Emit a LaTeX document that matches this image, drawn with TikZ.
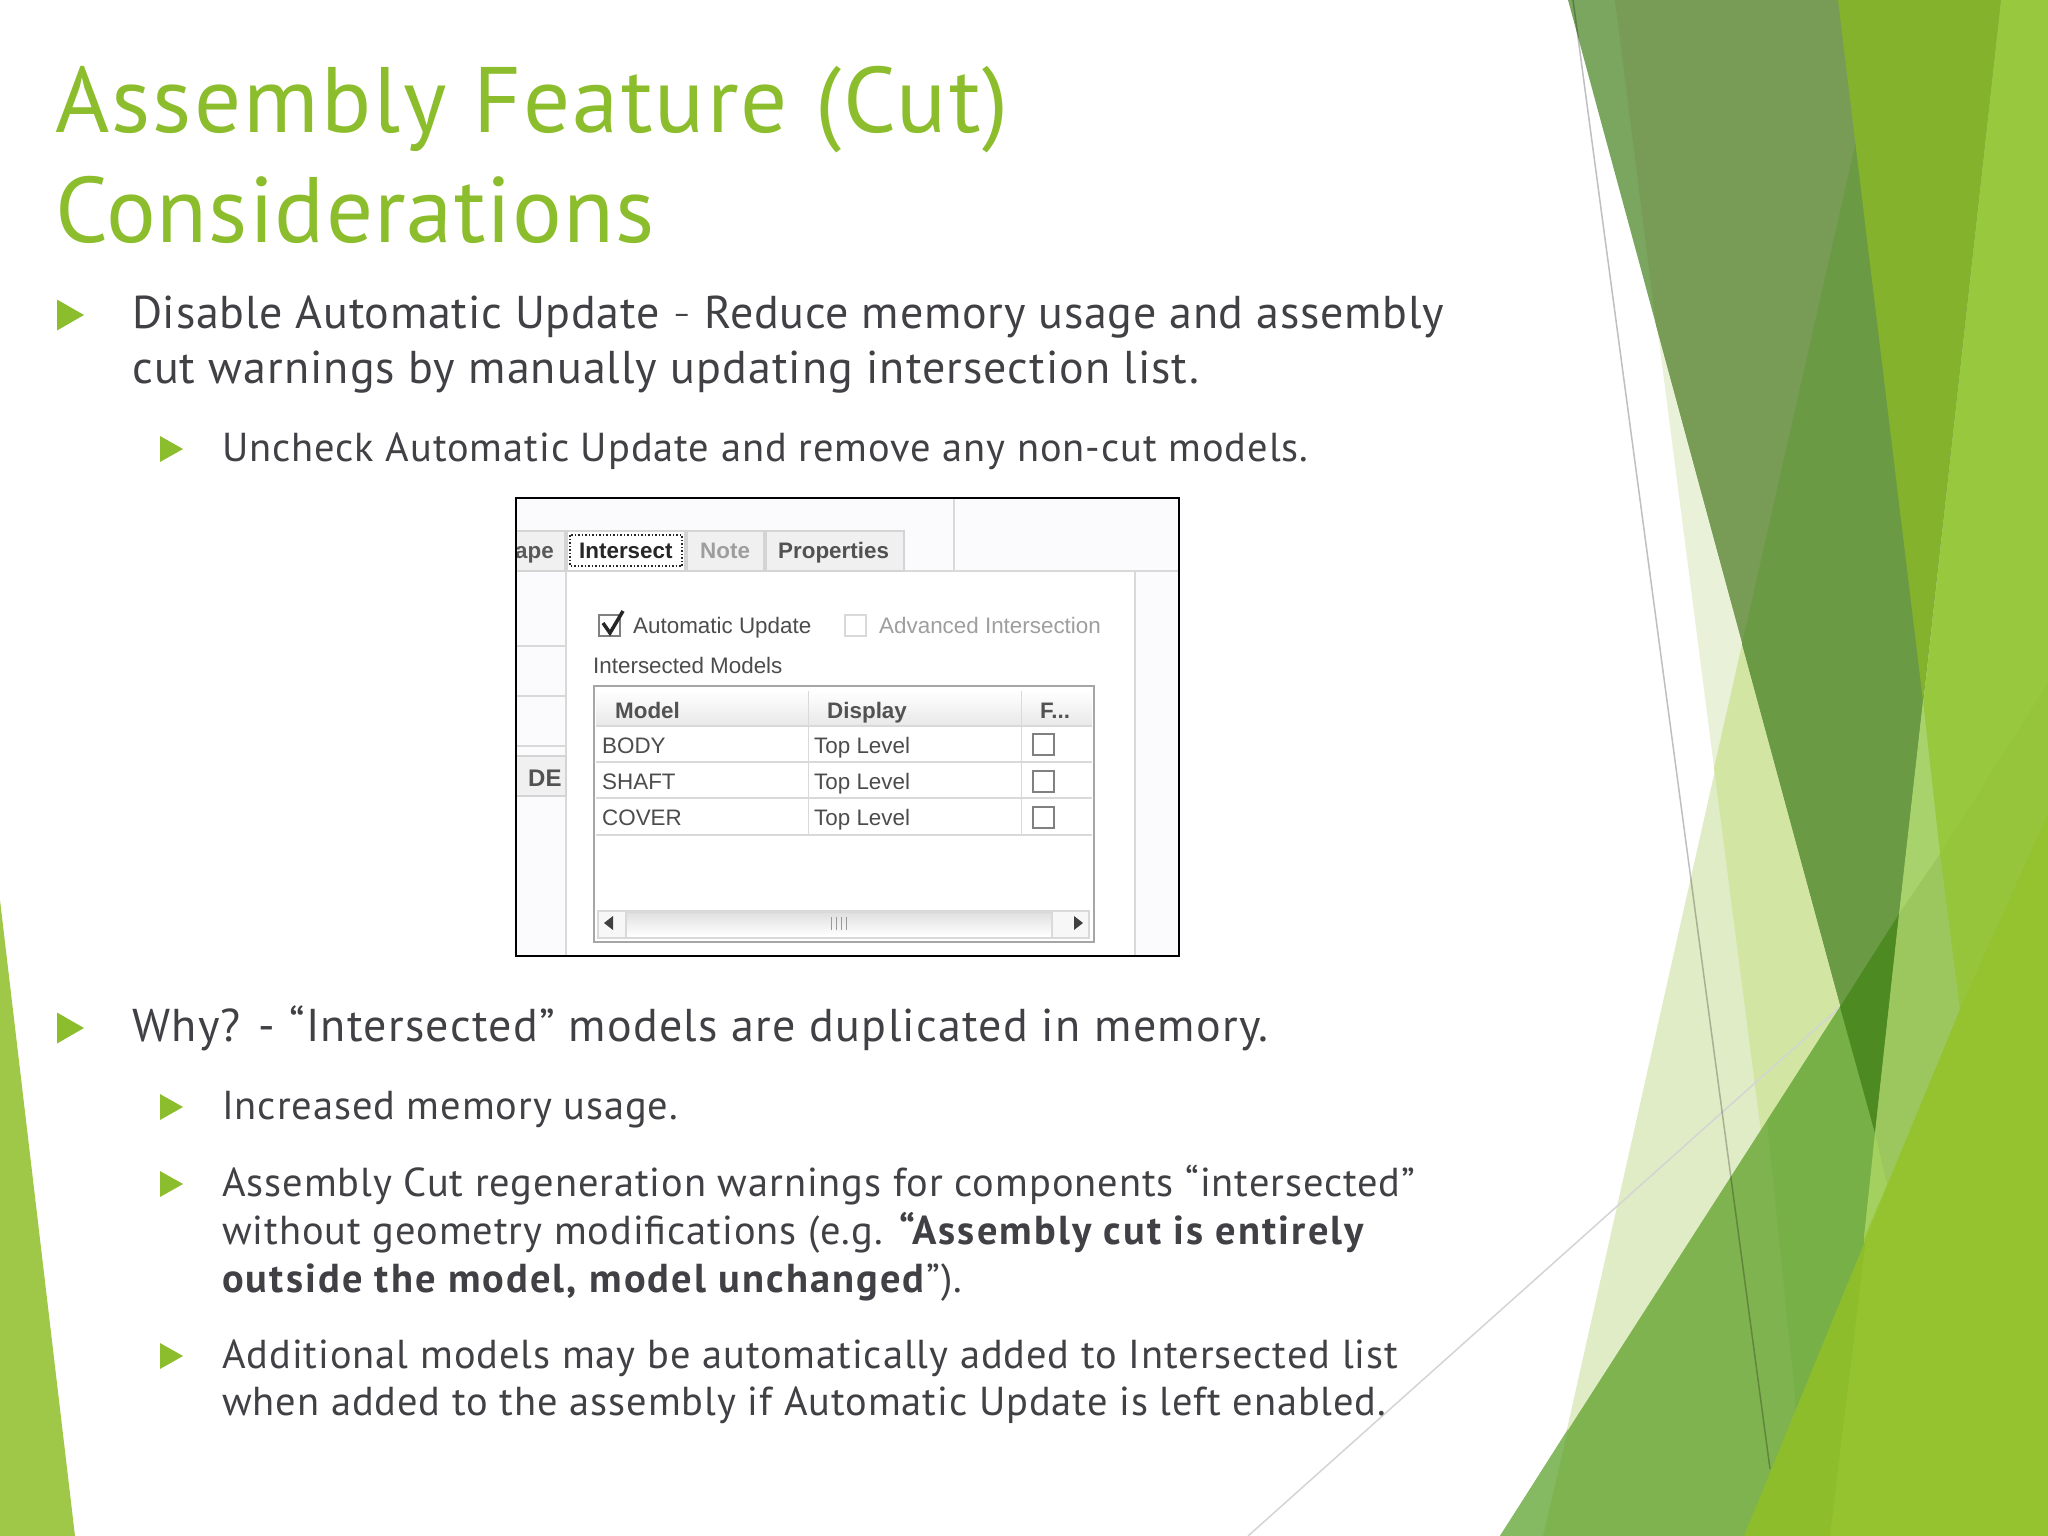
\documentclass[tikz,border=0pt]{standalone}
\usepackage{fontspec}
\setmainfont[LetterSpace=2.3,BoldFeatures={LetterSpace=5.2}]{PT Sans}
\newfontfamily\dialogfont{Liberation Sans}
\definecolor{titlegreen}{HTML}{8CBD2C}
\definecolor{bodygray}{HTML}{404045}
\tikzset{x=1pt,y=-1pt}
\tikzset{slidetitle/.style = {anchor=base west,inner sep=0pt,text=titlegreen,font=\fontsize{93}{93}\selectfont}}
\tikzset{bigline/.style = {anchor=base west,inner sep=0pt,text=bodygray,font=\fontsize{46}{46}\selectfont}}
\tikzset{subline/.style = {anchor=base west,inner sep=0pt,text=bodygray,font=\fontsize{40.4}{40.4}\selectfont}}
\tikzset{dlgtext/.style = {anchor=base west,inner sep=0pt,text=black!70,font=\dialogfont\fontsize{22.4}{22.4}\selectfont}}
\tikzset{dlgbold/.style = {dlgtext,text=black!68,font=\dialogfont\bfseries\fontsize{22.4}{22.4}\selectfont}}
\tikzset{dlgoff/.style = {dlgtext,text=black!38}}
\tikzset{dlgline/.style = {draw=black!15,line width=1.5pt}}
\tikzset{tabbox/.style = {draw=black!17,line width=1.5pt,fill=black!6}}
\tikzset{tickbox/.style = {draw=black!50,line width=1.5pt,fill=white}}
\newcommand{\bigmark}[1]{\fill[fill=titlegreen] (57,#1-15.5) -- (84,#1) -- (57,#1+15.5) -- cycle;}
\newcommand{\submark}[1]{\fill[fill=titlegreen] (160,#1-13) -- (183,#1) -- (160,#1+13) -- cycle;}
\begin{document}
\begin{tikzpicture}
            \useasboundingbox (0,0) rectangle (2048,1536);
            \fill[white] (0,0) rectangle (2048,1536);

            % Left wedge
            \fill[fill={rgb,255:red,160;green,200;blue,72}] (0,900) -- (75,1536) -- (0,1536) -- cycle;

            % Right wedges, back to front
            \fill[fill={rgb,255:red,233;green,242;blue,216}] (1615,0) -- (1795,1395) -- (2048,1395) -- (2048,0) -- cycle;
            \fill[fill={rgb,255:red,224;green,236;blue,197}] (1888,0) -- (1543,1536) -- (2048,1536) -- (2048,0) -- cycle;
            \fill[fill={rgb,255:red,210;green,229;blue,163}] (1888,0) -- (1714,768) -- (1795,1395) -- (2048,1395) -- (2048,0) -- cycle;
            \draw[line width=1.5pt,draw=black!17] (1248,1536) -- (1840,1007);
            \fill[fill={rgb,255:red,127;green,179;blue,80}] (1500,1536) -- (2048,683) -- (2048,1536) -- cycle;
            \fill[fill={rgb,255:red,133;green,186;blue,99}] (1500,1536) -- (1568,1429) -- (1543,1536) -- cycle;
            \fill[fill={rgb,255:red,120;green,176;blue,72}] (1767,1121) -- (1795,1395) -- (1800,1536) -- (1900,1536) -- (1900,1000) -- (1840,1007) -- cycle;
            \fill[fill={rgb,255:red,122;green,166;blue,95}] (1568,0) -- (2001,0) -- (1875,1133) -- cycle;
            \fill[fill={rgb,255:red,120;green,156;blue,85}] (1615,0) -- (2001,0) -- (1875,1133) -- (1656,325) -- cycle;
            \fill[fill={rgb,255:red,106;green,154;blue,68}] (1888,0) -- (2001,0) -- (1875,1133) -- (1742,644) -- cycle;
            \fill[fill={rgb,255:red,78;green,138;blue,34}] (1840,1007) -- (1899,914) -- (1875,1133) -- cycle;
            \fill[fill={rgb,255:red,132;green,178;blue,45}] (1838,0) -- (2001,0) -- (1923,701) -- cycle;
            \fill[fill={rgb,255:red,152;green,200;blue,62}] (2001,0) -- (1864,1238) -- (1864,1536) -- (2048,1536) -- (2048,0) -- cycle;
            \fill[fill={rgb,255:red,150;green,197;blue,60}] (1940,854) -- (2048,683) -- (2048,815) -- (1960,1010) -- cycle;
            \fill[fill={rgb,255:red,168;green,210;blue,108}] (1923,701) -- (1940,854) -- (1899,914) -- cycle;
            \fill[fill={rgb,255:red,156;green,199;blue,94}] (1940,854) -- (1960,1010) -- (1887,1184) -- (1875,1133) -- (1899,914) -- cycle;
            \fill[fill={rgb,255:red,164;green,208;blue,96}] (1875,1133) -- (1887,1184) -- (1864,1238) -- cycle;
            \draw[line width=1.5pt,draw=black,opacity=.25] (1573,0) -- (1770,1469);
            \fill[fill={rgb,255:red,142;green,189;blue,43}] (1744,1536) -- (1960,1010) -- (2048,815) -- (2048,1536) -- cycle;
            \fill[fill={rgb,255:red,148;green,195;blue,47}] (1830,1536) -- (1866,1238) -- (1960,1010) -- (2048,815) -- (2048,1536) -- cycle;

            % Title
            \node[slidetitle] (title1) at (55,132) {Assembly Feature (Cut)};
            \node[slidetitle] (title2) at (55,242) {\addfontfeature{LetterSpace=1.1}Considerations};

            % Upper bullets
            \bigmark{315}
            \node[bigline] (disable1) at (132,328) {\addfontfeature{LetterSpace=1.6}Disable Automatic Update \raisebox{5pt}{\fontsize{28}{28}\selectfont –} Reduce memory usage and assembly};
            \node[bigline] (disable2) at (132,383) {cut warnings by manually updating intersection list.};
            \submark{449}
            \node[subline] (uncheck) at (222,461) {Uncheck Automatic Update and remove any non-cut models.};

            % Dialog
            \fill[fill={rgb,255:red,251;green,251;blue,253}] (516,498) rectangle (1179,956);
            \fill[white] (566,571) rectangle (1135,956);
            \draw[dlgline] (516,571) -- (1179,571);
            \draw[dlgline] (954,498) -- (954,571);
            \draw[dlgline] (566,571) -- (566,956);
            \draw[dlgline] (1135,571) -- (1135,956);
            \draw[dlgline] (516,646) -- (566,646);
            \draw[dlgline] (516,696) -- (566,696);
            \draw[dlgline] (516,746) -- (566,746);
            \draw[tabbox] (516,756) rectangle (566,796);
            \node[dlgbold,font=\dialogfont\bfseries\fontsize{24}{24}\selectfont] (de) at (528,786) {DE};

            \draw[tabbox] (516,531) rectangle (565,571);
            \draw[tabbox,fill=white] (567,531) rectangle (685,571);
            \draw[tabbox] (687,531) rectangle (764,571);
            \draw[tabbox] (766,531) rectangle (904,571);
            \draw[black!85,line width=1.5pt,dotted] (570,535) rectangle (682,566);
            \node[dlgbold,text=black!65] (tabshape) at (515,558) {ape};
            \node[dlgbold,text=black!85] (tabintersect) at (579,558) {Intersect};
            \node[dlgbold,text=black!38] (tabnote) at (700,558) {Note};
            \node[dlgbold] (tabprop) at (778,558) {Properties};

            \draw[tickbox] (599,615) rectangle (620,636);
            \draw[black!85,line width=3.5pt] (603,623) -- (610,633) -- (623,611);
            \node[dlgtext] (autoupdate) at (633,633) {Automatic Update};
            \draw[tickbox,draw=black!15] (845,615) rectangle (866,636);
            \node[dlgoff] (advanced) at (879,633) {Advanced Intersection};
            \node[dlgtext] (modelslabel) at (593,673) {Intersected Models};

            % Table
            \draw[draw=black!35,line width=1.5pt,fill=white] (594,686) rectangle (1094,942);
            \shade[top color=white,bottom color=black!9] (596,691) rectangle (1092,726);
            \draw[dlgline] (596,726) -- (1092,726);
            \draw[dlgline] (596,762) -- (1092,762);
            \draw[dlgline] (596,798) -- (1092,798);
            \draw[dlgline] (596,835) -- (1092,835);
            \draw[dlgline,line width=1pt] (808,691) -- (808,835);
            \draw[dlgline,line width=1pt] (1021,691) -- (1021,835);
            \node[dlgbold] (hmodel) at (615,718) {Model};
            \node[dlgbold] (hdisplay) at (827,718) {Display};
            \node[dlgbold] (hf) at (1040,718) {F...};
            \node[dlgtext] (body) at (602,753) {BODY};
            \node[dlgtext] (shaft) at (602,789) {SHAFT};
            \node[dlgtext] (cover) at (602,825) {COVER};
            \node[dlgtext] (bodylevel) at (814,753) {Top Level};
            \node[dlgtext] (shaftlevel) at (814,789) {Top Level};
            \node[dlgtext] (coverlevel) at (814,825) {Top Level};
            \draw[tickbox] (1033,734) rectangle (1054,755);
            \draw[tickbox] (1033,771) rectangle (1054,792);
            \draw[tickbox] (1033,807) rectangle (1054,828);

            % Scroll bar
            \fill[black!15] (597,910) rectangle (1090,939);
            \fill[black!3] (599,912) rectangle (625,937);
            \fill[black!3] (1053,912) rectangle (1088,937);
            \shade[top color=black!12,bottom color=white] (627,913) rectangle (1051,936);
            \fill[black!75] (604,923) -- (613,916) -- (613,930) -- cycle;
            \fill[black!75] (1083,923) -- (1074,916) -- (1074,930) -- cycle;
            \draw[black!40] (831,917) -- (831,930);
            \draw[black!40] (836,917) -- (836,930);
            \draw[black!40] (841,917) -- (841,930);
            \draw[black!40] (846,917) -- (846,930);
            \draw[black,line width=2pt] (516,498) rectangle (1179,956);

            % Lower bullets
            \bigmark{1028}
            \node[bigline] (why) at (132,1041) {\addfontfeature{LetterSpace=2.85}Why? - “Intersected” models are duplicated in memory.};
            \submark{1107}
            \node[subline] (increased) at (222,1119) {Increased memory usage.};
            \submark{1184}
            \node[subline] (regen1) at (222,1196) {Assembly Cut regeneration warnings for components “intersected”};
            \node[subline] (regen2) at (222,1244) {without geometry modifications (e.g. \textbf{“Assembly cut is entirely}};
            \node[subline] (regen3) at (222,1292) {\textbf{outside the model, model unchanged}”).};
            \submark{1356}
            \node[subline] (added1) at (222,1368) {Additional models may be automatically added to Intersected list};
            \node[subline] (added2) at (222,1415) {when added to the assembly if Automatic Update is left enabled.};
        \end{tikzpicture}
\end{document}
